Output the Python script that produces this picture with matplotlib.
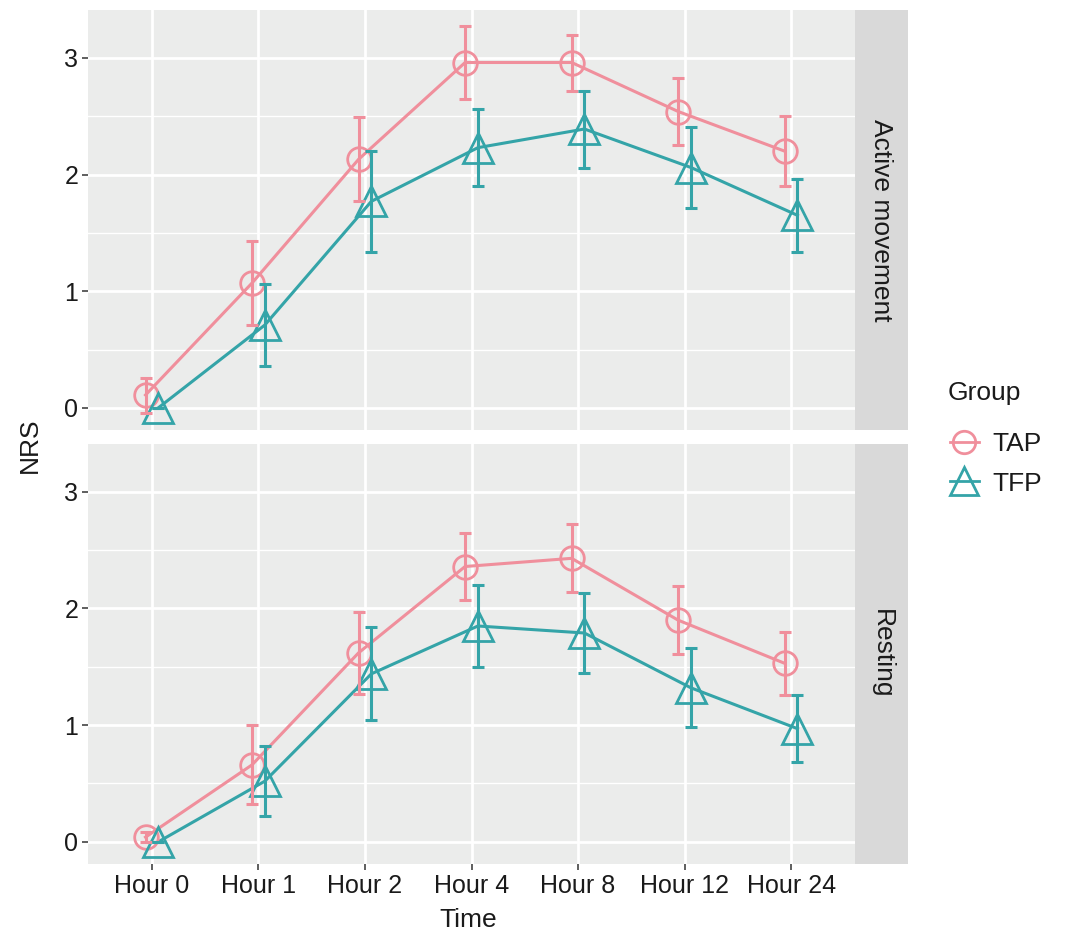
import numpy as np
import matplotlib.pyplot as plt
from matplotlib.lines import Line2D

plt.rcParams['font.family'] = ['Liberation Sans', 'DejaVu Sans']

# data
hours = ['Hour 0', 'Hour 1', 'Hour 2', 'Hour 4', 'Hour 8', 'Hour 12', 'Hour 24']
groups = ['TAP', 'TFP']
panels = ['Active movement', 'Resting']

active_tap_mean = [0.11, 1.07, 2.13, 2.96, 2.96, 2.54, 2.20]
active_tap_err = [0.15, 0.36, 0.36, 0.31, 0.24, 0.29, 0.30]
active_tfp_mean = [0.0, 0.71, 1.77, 2.23, 2.39, 2.06, 1.65]
active_tfp_err = [0.0, 0.35, 0.43, 0.33, 0.33, 0.35, 0.31]

rest_tap_mean = [0.04, 0.66, 1.62, 2.36, 2.43, 1.90, 1.53]
rest_tap_err = [0.04, 0.34, 0.35, 0.29, 0.29, 0.29, 0.27]
rest_tfp_mean = [0.0, 0.52, 1.44, 1.85, 1.79, 1.32, 0.97]
rest_tfp_err = [0.0, 0.30, 0.40, 0.35, 0.34, 0.34, 0.29]

colors = {'TAP': '#F08F9C', 'TFP': '#34A4A8'}
markers = {'TAP': 'o', 'TFP': '^'}
msize = {'TAP': 17, 'TFP': 21}
dodge = {'TAP': -0.06, 'TFP': 0.06}

panel_data = {
    'Active movement': {'TAP': (active_tap_mean, active_tap_err),
                        'TFP': (active_tfp_mean, active_tfp_err)},
    'Resting': {'TAP': (rest_tap_mean, rest_tap_err),
                'TFP': (rest_tfp_mean, rest_tfp_err)},
}

W, H = 1080, 939
fig = plt.figure(figsize=(W / 100, H / 100), dpi=100)

def px_axes(x0, y0, x1, y1):
    return fig.add_axes([x0 / W, 1 - y1 / H, (x1 - x0) / W, (y1 - y0) / H])

panel_box = [(88, 10, 855, 430), (88, 444, 855, 864)]
x = np.arange(len(hours))

for i, name in enumerate(panels):
    x0, y0, x1, y1 = panel_box[i]
    ax = px_axes(x0, y0, x1, y1)
    ax.set_facecolor('#EBECEB')
    for s in ax.spines.values():
        s.set_visible(False)
    ax.set_xlim(-0.6, len(hours) - 0.4)
    ax.set_ylim(-0.19, 3.41)
    ax.set_yticks([0, 1, 2, 3])
    ax.set_yticks([0.5, 1.5, 2.5], minor=True)
    ax.set_xticks(x)
    ax.grid(True, which='major', color='white', lw=2.0)
    ax.grid(True, which='minor', axis='y', color='white', lw=1.0)
    ax.set_axisbelow(True)
    ax.tick_params(axis='both', which='major', length=4, width=1.1, color='#333333',
                   labelsize=18, labelcolor='#1A1A1A', pad=3)
    ax.tick_params(axis='y', which='minor', length=0)
    if i == 0:
        ax.set_xticklabels([])
        ax.tick_params(axis='x', length=0)
    else:
        ax.set_xticklabels(hours)

    for g in groups:
        mean, err = panel_data[name][g]
        xs = x + dodge[g]
        ax.plot(xs, mean, color=colors[g], lw=2.2, zorder=3)
        ax.plot(xs, mean, linestyle='none', marker=markers[g], ms=msize[g],
                mfc='none', mec=colors[g], mew=2.0, zorder=4)
        ax.errorbar(xs, mean, yerr=err, fmt='none', ecolor=colors[g],
                    elinewidth=2.2, capsize=4, capthick=2.2, zorder=5)

    # facet strip
    sx = px_axes(855, y0, 908, y1)
    sx.set_facecolor('#D9D9D9')
    sx.set_xticks([])
    sx.set_yticks([])
    for s in sx.spines.values():
        s.set_visible(False)
    sx.text(0.5, 0.5, name, rotation=-90, ha='center', va='center',
            fontsize=19, color='#1A1A1A', transform=sx.transAxes)

fig.text(30 / W, 1 - 445 / H, 'NRS', rotation=90, ha='center', va='center',
         fontsize=19, color='#1A1A1A')
fig.text(468 / W, 1 - 920 / H, 'Time', ha='center', va='center',
         fontsize=19, color='#1A1A1A')

# legend: title and keys placed by hand, keys drawn as legend handles
fig.text(948 / W, 1 - 393 / H, 'Group', ha='left', va='center',
         fontsize=19, color='#1A1A1A')
handles = [Line2D([0], [0], color=colors[g], lw=2.0, marker=markers[g],
                  ms=msize[g] * 0.95, mfc='none', mec=colors[g], mew=2.0)
           for g in groups]
leg = fig.legend(handles, groups, loc='upper left',
                 bbox_to_anchor=(926 / W, 1 - 408 / H), frameon=False,
                 fontsize=19, handlelength=1.1,
                 handletextpad=0.5, labelspacing=0.6)
for t in leg.get_texts():
    t.set_color('#1A1A1A')

fig.savefig('out.png', dpi=100)
